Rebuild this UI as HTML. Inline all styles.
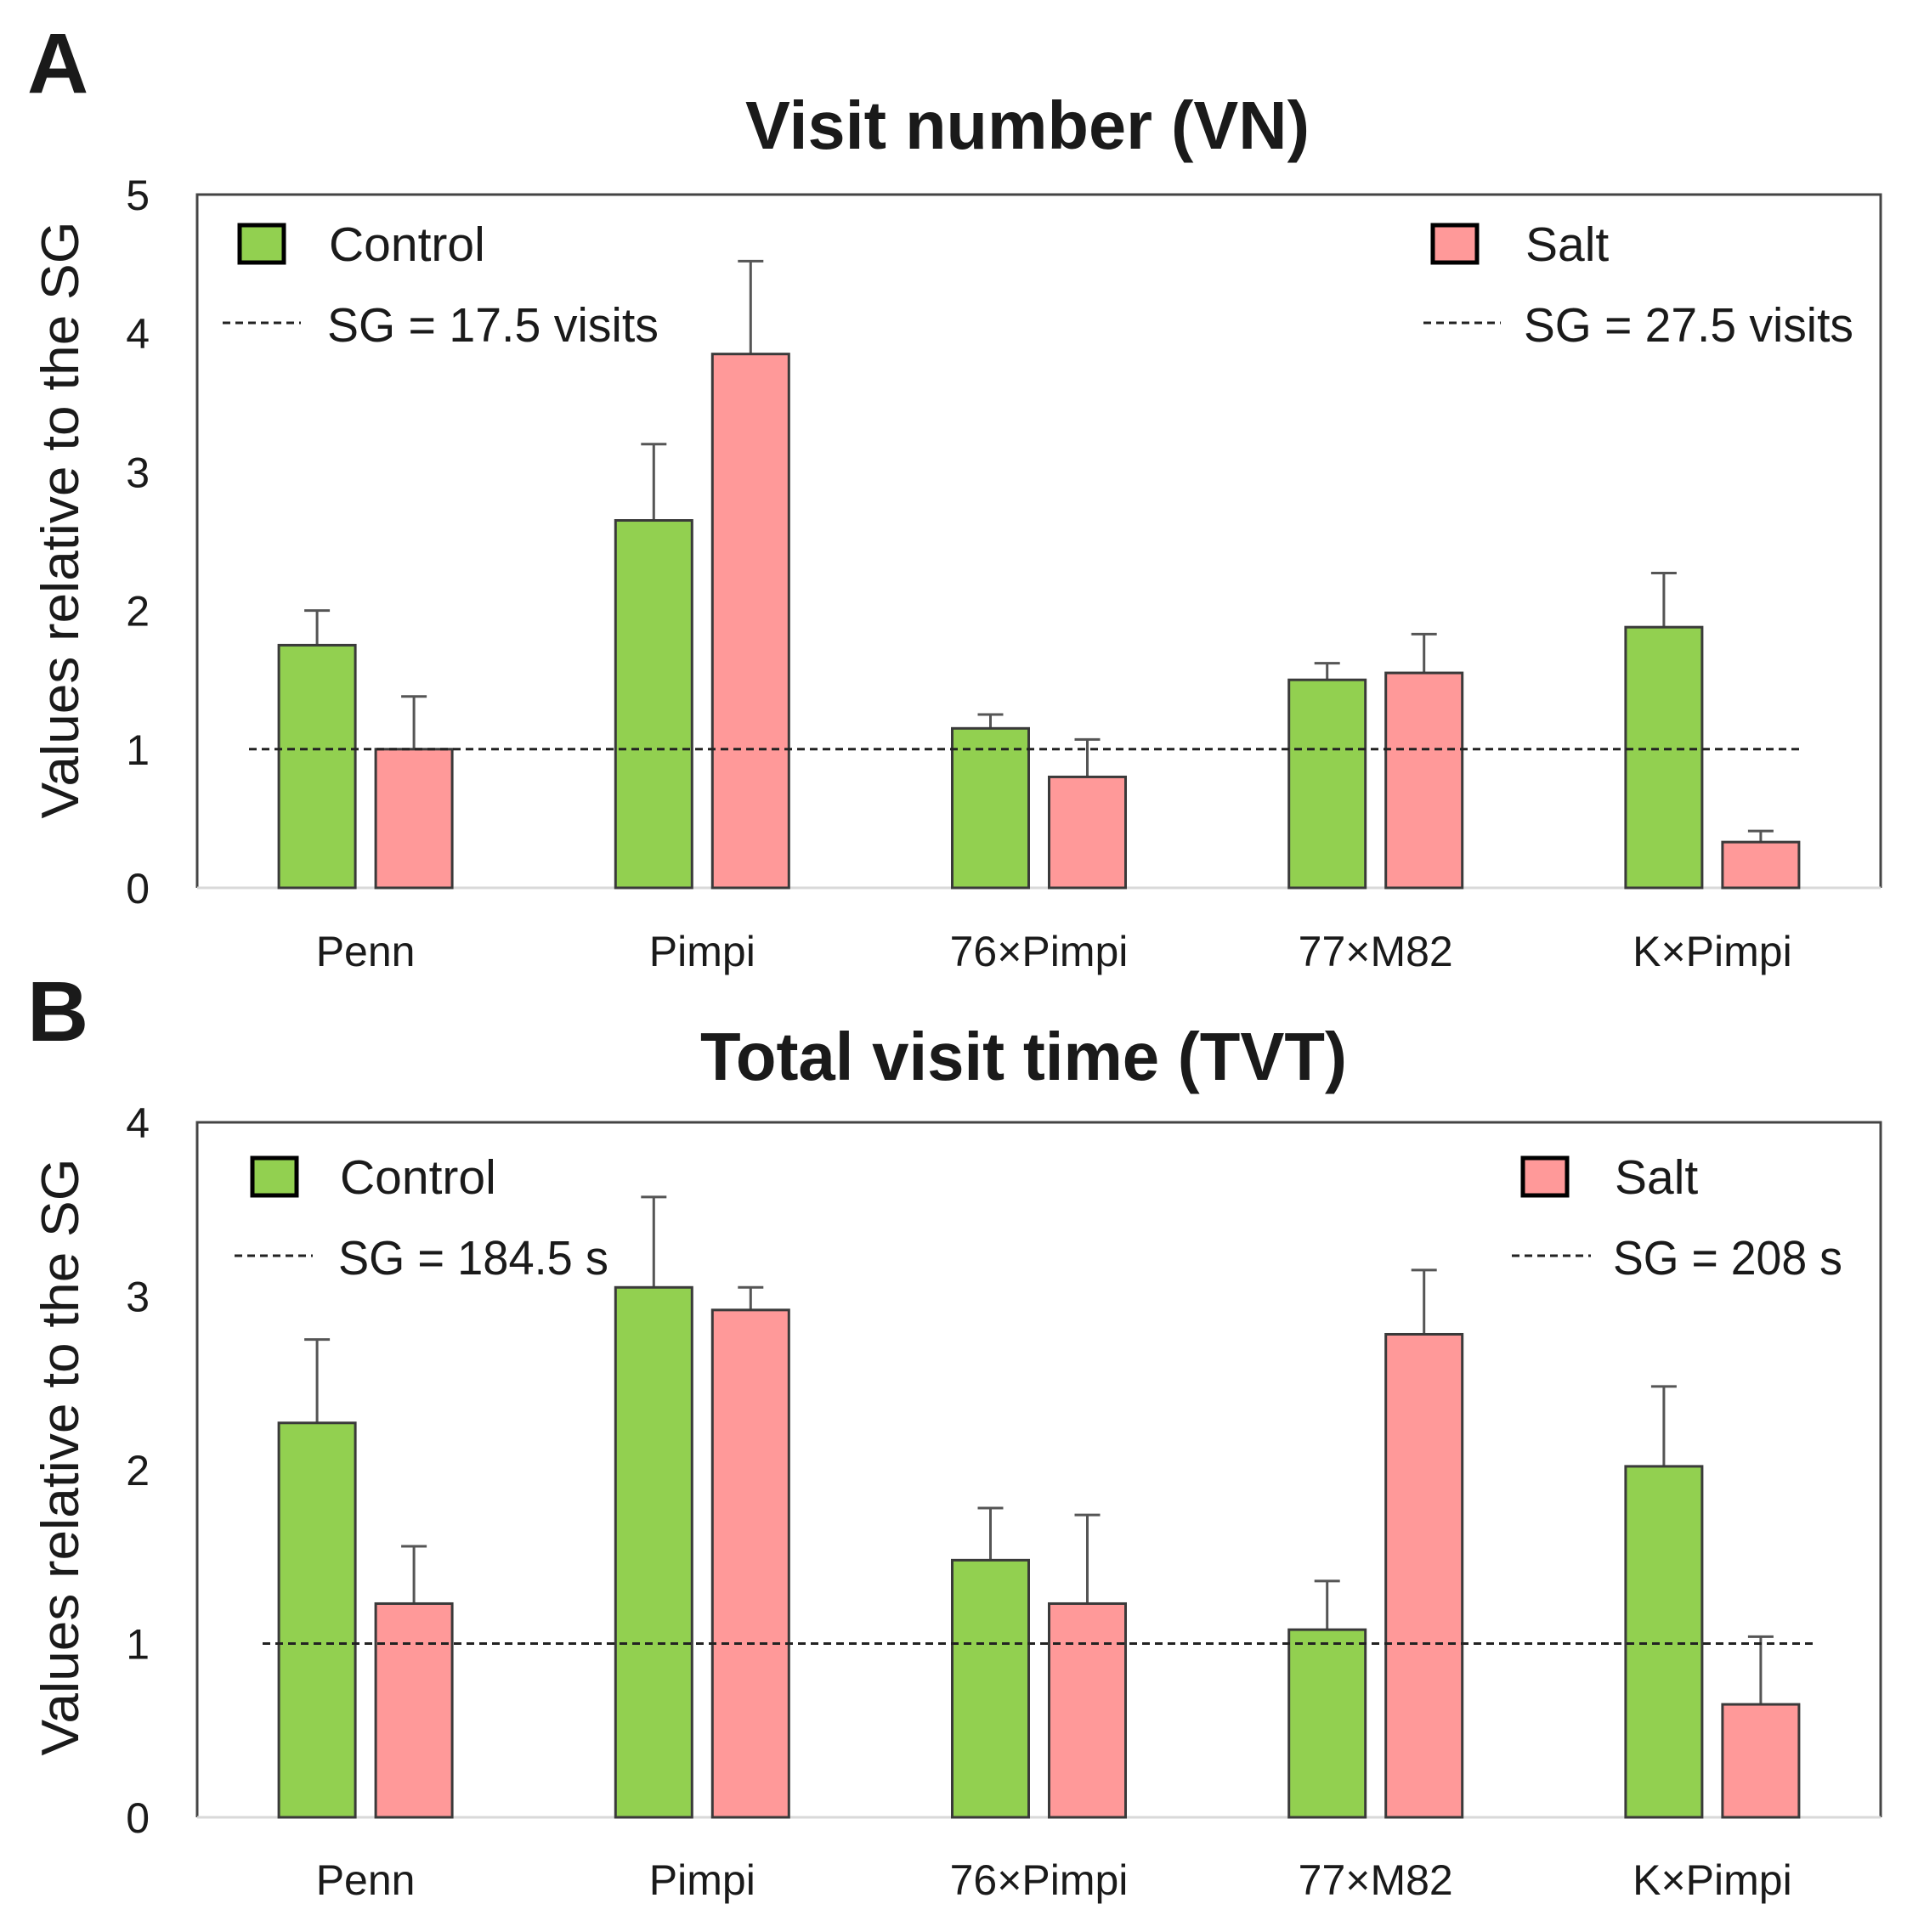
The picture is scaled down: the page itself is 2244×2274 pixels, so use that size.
<!DOCTYPE html>
<html><head><meta charset="utf-8"><style>
html,body{margin:0;padding:0;background:#fff;}
svg{display:block;}
text{font-family:"Liberation Sans",sans-serif;fill:#1a1a1a;}
</style></head>
<body>
<svg id="fig" width="2244" height="2274" viewBox="0 0 2244 2274" xmlns="http://www.w3.org/2000/svg"></svg>
<script>
const categories = ["Penn","Pimpi","76×Pimpi","77×M82","K×Pimpi"];
const vnControl = [1.75, 2.65, 1.15, 1.50, 1.88];
const vnControlErr = [2.00, 3.20, 1.25, 1.62, 2.27];
const vnSalt = [1.00, 3.85, 0.80, 1.55, 0.33];
const vnSaltErr = [1.38, 4.52, 1.07, 1.83, 0.41];
const vnTicks = [0,1,2,3,4,5];
const tvtControl = [2.27, 3.05, 1.48, 1.08, 2.02];
const tvtControlErr = [2.75, 3.57, 1.78, 1.36, 2.48];
const tvtSalt = [1.23, 2.92, 1.23, 2.78, 0.65];
const tvtSaltErr = [1.56, 3.05, 1.74, 3.15, 1.04];
const tvtTicks = [0,1,2,3,4];
const refValue = 1;

const NS="http://www.w3.org/2000/svg";
const svg=document.getElementById('fig');
function mk(tag,attrs,parent,txt){
  const e=document.createElementNS(NS,tag);
  for(const k in attrs)e.setAttribute(k,attrs[k]);
  if(txt!==undefined)e.textContent=txt;
  (parent||svg).appendChild(e);return e;
}

function panel(o){
  const g=mk('g',{});
  
  
  const L=232,R=2213,T=o.top,B=o.bottom,ymax=o.ticks[o.ticks.length-1];
  const y=v=>B-(v/ymax)*(B-T);
  const band=(R-L)/categories.length;
  const xc=i=>L+band*(i+0.5);
  // letter & title
  const lt=mk('text',{x:32,y:o.letterY,'font-size':100,'font-weight':'bold'},g,o.letter);
  
  
  const tt=mk('text',{x:o.titleX,y:o.titleY,'font-size':80,'font-weight':'bold',textLength:o.titleW,lengthAdjust:'spacingAndGlyphs'},g,o.title);
  
  
  // frame
  const fr=mk('path',{d:`M${L},${B} L${L},${T} L${R},${T} L${R},${B}`,fill:'none',stroke:'#444','stroke-width':3},g);
  
  
  const ax=mk('line',{x1:L,x2:R,y1:B,y2:B,stroke:'#d9d9d9','stroke-width':3},g);
  
  
  // ticks
  o.ticks.forEach(t=>{
    const e=mk('text',{x:176,y:y(t)+18,'font-size':50,'text-anchor':'end'},g,String(t));
    
    
  });
  const yt=mk('text',{x:0,y:0,'font-size':62,'text-anchor':'middle',textLength:703,lengthAdjust:'spacingAndGlyphs',transform:`translate(92,${o.ytitleY}) rotate(-90)`},g,'Values relative to the SG');
  
  
  // bars
  const series=[{v:o.c,e:o.ce,fill:'#92d050',off:-102,n:'control'},{v:o.s,e:o.se,fill:'#ff9999',off:12,n:'salt'}];
  categories.forEach((c,i)=>{
    series.forEach(s=>{
      const x0=xc(i)+s.off, w=90, top=y(s.v[i]);
      const eb=mk('path',{d:`M${x0+w/2},${top} L${x0+w/2},${y(s.e[i])} M${x0+w/2-15},${y(s.e[i])} L${x0+w/2+15},${y(s.e[i])}`,stroke:'#555','stroke-width':3,fill:'none'},g);
      
      
      const r=mk('rect',{x:x0,y:top,width:w,height:B-top,fill:s.fill,stroke:'#3a3a3a','stroke-width':3},g);
      
      
    });
    const xl=mk('text',{x:xc(i),y:o.xlabY,'font-size':50,'text-anchor':'middle'},g,c);
    
    
  });
  const rl=mk('line',{x1:o.refX1,x2:o.refX2,y1:y(refValue),y2:y(refValue),stroke:'#222','stroke-width':3,'stroke-dasharray':'9,6'},g);
  
  
  // legend
  const lg=o.leg;
  [[lg.gx,'#92d050','Control',lg.ctx,lg.sgL,lg.dl],[lg.sx,'#ff9999','Salt',lg.stx,lg.sgR,lg.dr]].forEach((q,k)=>{
    const sq=mk('rect',{x:q[0],y:lg.sqY,width:52,height:44,fill:q[1],stroke:'#000','stroke-width':5},g);
    
    
    const t1=mk('text',{x:q[3],y:lg.sqY+42,'font-size':57},g,q[2]);
    
    
    const dl=mk('line',{x1:q[5][0],x2:q[5][1],y1:lg.dY,y2:lg.dY,stroke:'#222','stroke-width':3,'stroke-dasharray':'9,6'},g);
    
    
    const t2=mk('text',{x:q[3]-2,y:lg.dY+22,'font-size':57,textLength:q[4][1],lengthAdjust:'spacingAndGlyphs'},g,q[4][0]);
    
    
  });
}

panel({name:'panel-a',letter:'A',letterY:109,title:'Visit number (VN)',titleX:877,titleY:175,titleW:664,
  top:229,bottom:1045,ticks:vnTicks,c:vnControl,ce:vnControlErr,s:vnSalt,se:vnSaltErr,
  ytitleY:612,xlabY:1137,refX1:293,refX2:2121,
  leg:{gx:282,sx:1686,sqY:265,ctx:387,stx:1795,dY:380,dl:[262,354],dr:[1675,1766],
    sgL:['SG = 17.5 visits',390],sgR:['SG = 27.5 visits',388]}});
panel({name:'panel-b',letter:'B',letterY:1225,title:'Total visit time (TVT)',titleX:824,titleY:1271,titleW:761,
  top:1321,bottom:2139,ticks:tvtTicks,c:tvtControl,ce:tvtControlErr,s:tvtSalt,se:tvtSaltErr,
  ytitleY:1715,xlabY:2230,refX1:309,refX2:2139,
  leg:{gx:297,sx:1792,sqY:1363,ctx:400,stx:1900,dY:1478,dl:[276,368],dr:[1779,1872],
    sgL:['SG = 184.5 s',318],sgR:['SG = 208 s',270]}});
</script>
</body></html>
